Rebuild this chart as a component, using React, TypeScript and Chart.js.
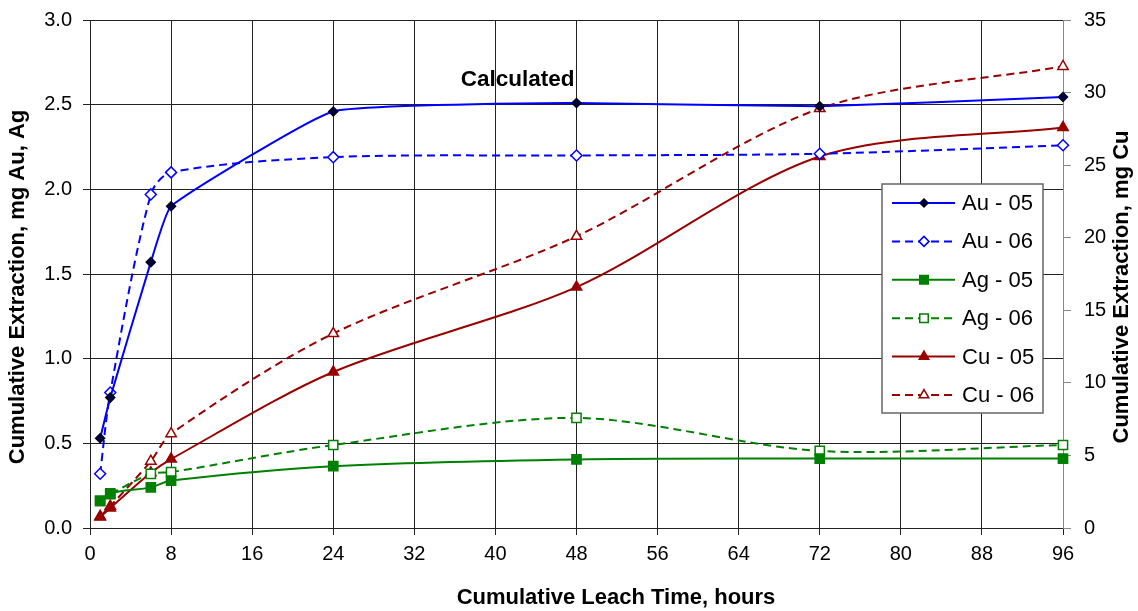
import React, { useEffect, useRef } from 'react';
import { Chart, registerables } from 'chart.js';
import { drawPoint } from 'chart.js/helpers';

Chart.register(...registerables);

// ---- Data ----
const hours = [1, 2, 6, 8, 24, 48, 72, 96];
const au05 = [0.53, 0.77, 1.57, 1.9, 2.46, 2.51, 2.49, 2.545];
const au06 = [0.32, 0.8, 1.97, 2.1, 2.19, 2.2, 2.21, 2.26];
const ag05 = [0.16, 0.205, 0.24, 0.28, 0.365, 0.405, 0.41, 0.41];
const ag06 = [0.16, 0.2, 0.32, 0.33, 0.49, 0.65, 0.455, 0.49];
const cu05 = [0.76, 1.38, 3.8, 4.75, 10.75, 16.6, 25.6, 27.6];
const cu06 = [0.8, 1.5, 4.6, 6.5, 13.4, 20.1, 28.9, 31.8];

const seriesLabels = ['Au - 05', 'Au - 06', 'Ag - 05', 'Ag - 06', 'Cu - 05', 'Cu - 06'];
const xTitle = 'Cumulative Leach Time, hours';
const yTitle = 'Cumulative Extraction, mg Au, Ag';
const y1Title = 'Cumulative Extraction, mg Cu';
const noteText = 'Calculated';
const notePos = { x: 42.2, y: 2.645 };

const FONT = "'Liberation Sans', Arial, sans-serif";
const BLUE = '#0000FF';
const GREEN = '#008000';
const RED = '#990000';
const DASH = [8, 5];

const toPoints = (vals: number[]) => hours.map((h, i) => ({ x: h, y: vals[i] }));

const noPad = (s: any) => { s.paddingTop = 0; s.paddingBottom = 0; };

const overlayPlugin = {
  id: 'overlay',
  afterDraw(chart: any) {
    const ctx = chart.ctx as CanvasRenderingContext2D;
    const xs = chart.scales.x;
    const ys = chart.scales.y;
    ctx.save();
    // annotation text
    ctx.fillStyle = '#000';
    ctx.font = `bold 22.5px ${FONT}`;
    ctx.textAlign = 'center';
    ctx.textBaseline = 'middle';
    ctx.fillText(noteText, xs.getPixelForValue(notePos.x), ys.getPixelForValue(notePos.y));

    // axis titles
    ctx.font = `bold 22px ${FONT}`;
    ctx.fillText(xTitle, 616, 598);
    ctx.save();
    ctx.translate(18, 287);
    ctx.rotate(-Math.PI / 2);
    ctx.fillText(yTitle, 0, 0);
    ctx.restore();
    ctx.save();
    ctx.translate(1122, 287);
    ctx.rotate(-Math.PI / 2);
    ctx.fillText(y1Title, 0, 0);
    ctx.restore();

    // legend box
    const bx = 882, by = 184, bw = 161, bh = 229;
    ctx.fillStyle = '#fff';
    ctx.fillRect(bx, by, bw, bh);
    ctx.strokeStyle = '#666';
    ctx.lineWidth = 1.5;
    ctx.strokeRect(bx, by, bw, bh);
    chart.data.datasets.forEach((ds: any, i: number) => {
      const cy = 203 + i * 38.4;
      ctx.save();
      ctx.strokeStyle = ds.borderColor;
      ctx.lineWidth = ds.borderWidth;
      ctx.setLineDash(ds.borderDash || []);
      ctx.beginPath();
      ctx.moveTo(892, cy);
      ctx.lineTo(955, cy);
      ctx.stroke();
      ctx.setLineDash([]);
      ctx.fillStyle = ds.pointBackgroundColor;
      ctx.strokeStyle = ds.pointBorderColor;
      ctx.lineWidth = ds.pointBorderWidth;
      drawPoint(ctx, { pointStyle: ds.pointStyle, rotation: 0, radius: ds.pointRadius - 0.5, borderWidth: ds.pointBorderWidth }, 924, cy);
      ctx.restore();
      ctx.fillStyle = '#000';
      ctx.font = `22px ${FONT}`;
      ctx.textAlign = 'left';
      ctx.textBaseline = 'middle';
      ctx.fillText(ds.label, 962, cy + 1);
    });
    ctx.restore();
  },
};

export default function App() {
  const ref = useRef<HTMLCanvasElement | null>(null);
  useEffect(() => {
    if (!ref.current) return;
    const common = { tension: 0.3, borderWidth: 2, clip: false as any, pointBorderWidth: 1.5 };
    const chart = new Chart(ref.current, {
      type: 'line',
      data: {
        datasets: [
          { ...common, tension: 0.12, label: seriesLabels[0], data: toPoints(au05), yAxisID: 'y', borderColor: BLUE, pointStyle: 'rectRot', pointRadius: 4.5, pointBackgroundColor: '#000040', pointBorderColor: '#000020' },
          { ...common, label: seriesLabels[1], data: toPoints(au06), yAxisID: 'y', borderColor: BLUE, borderDash: DASH, pointStyle: 'rectRot', pointRadius: 5.5, pointBackgroundColor: '#fff', pointBorderColor: BLUE },
          { ...common, label: seriesLabels[2], data: toPoints(ag05), yAxisID: 'y', borderColor: GREEN, pointStyle: 'rect', pointRadius: 6.5, pointBackgroundColor: GREEN, pointBorderColor: GREEN },
          { ...common, label: seriesLabels[3], data: toPoints(ag06), yAxisID: 'y', borderColor: GREEN, borderDash: DASH, pointStyle: 'rect', pointRadius: 6.5, pointBackgroundColor: '#fff', pointBorderColor: GREEN },
          { ...common, label: seriesLabels[4], data: toPoints(cu05), yAxisID: 'y1', borderColor: RED, pointStyle: 'triangle', pointRadius: 6, pointBackgroundColor: RED, pointBorderColor: RED },
          { ...common, label: seriesLabels[5], data: toPoints(cu06), yAxisID: 'y1', borderColor: RED, borderDash: DASH, pointStyle: 'triangle', pointRadius: 6, pointBackgroundColor: '#fff', pointBorderColor: RED },
        ],
      },
      options: {
        responsive: false,
        animation: false,
        layout: { padding: { top: 20, left: 0, right: 0, bottom: 0 } },
        plugins: { legend: { display: false }, tooltip: { enabled: false }, title: { display: false } },
        scales: {
          x: {
            type: 'linear',
            min: 0,
            max: 96,
            afterFit: (s: any) => { s.height = 83; },
            ticks: { stepSize: 8, color: '#000', font: { family: FONT, size: 20 }, padding: 7, maxRotation: 0, autoSkip: false },
            grid: {
              color: (c: any) => (c.tick && c.tick.value === 96 ? '#888' : '#222'),
              lineWidth: 1,
              tickLength: 7,
              tickColor: '#222',
            },
            border: { color: '#222', width: 1 },
          },
          y: {
            position: 'left',
            min: 0,
            max: 3,
            afterFit: (s: any) => { s.width = 90; noPad(s); },
            ticks: { stepSize: 0.5, color: '#000', font: { family: FONT, size: 20 }, padding: 11, callback: (v: any) => Number(v).toFixed(1) },
            grid: { color: '#222', lineWidth: 1, tickLength: 7, tickColor: '#222' },
            border: { color: '#222', width: 1 },
          },
          y1: {
            position: 'right',
            min: 0,
            max: 35,
            afterFit: (s: any) => { s.width = 75; noPad(s); },
            ticks: { stepSize: 5, color: '#000', font: { family: FONT, size: 20 }, padding: 13 },
            grid: { drawOnChartArea: false, tickLength: 8, tickColor: '#888', color: '#888' },
            border: { color: '#888', width: 1 },
          },
        },
      },
      plugins: [overlayPlugin],
    });
    return () => chart.destroy();
  }, []);
  return (
    <div style={{ position: 'fixed', left: 0, top: 0, width: 1138, height: 611, background: '#fff' }}>
      <canvas ref={ref} width={1138} height={611} style={{ display: 'block' }} />
    </div>
  );
}
